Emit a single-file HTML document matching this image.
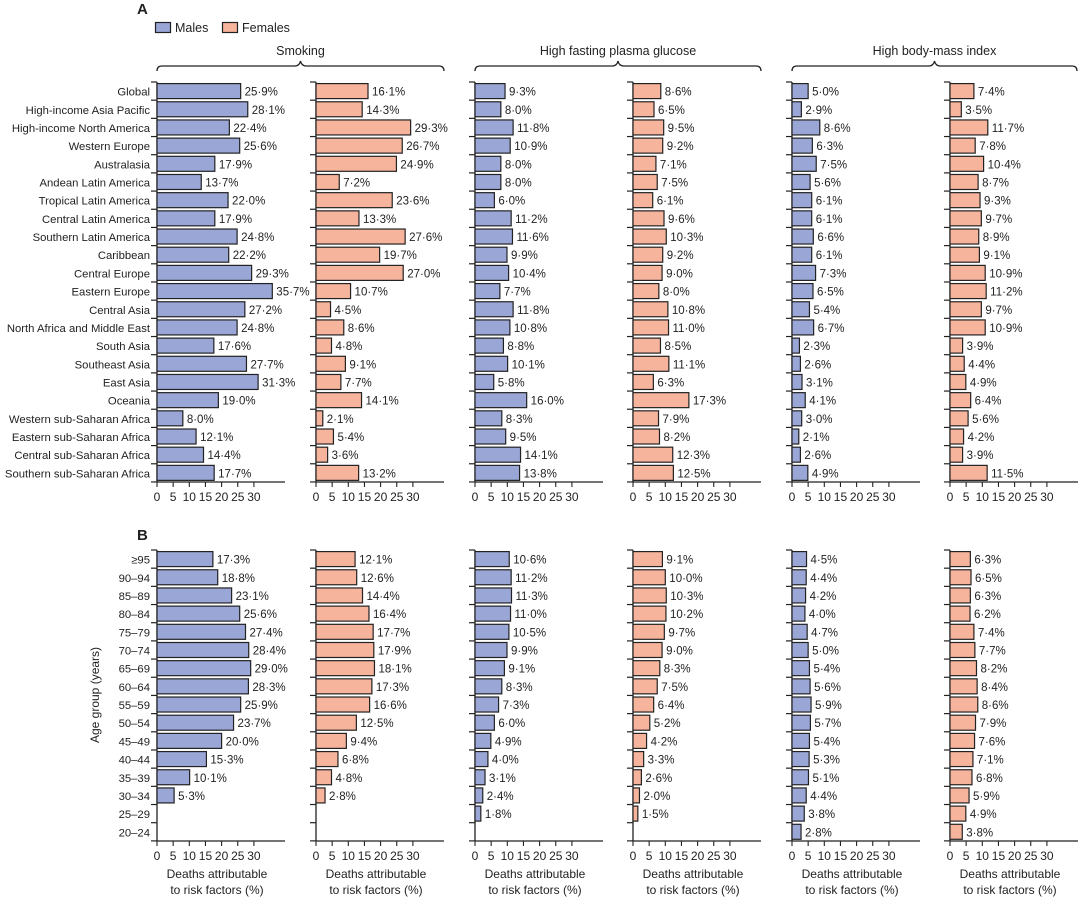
<!DOCTYPE html>
<html><head><meta charset="utf-8"><style>
body{margin:0;background:#fff}
svg{display:block;font-family:"Liberation Sans",sans-serif}
</style></head><body>
<svg id="c" width="1080" height="898" viewBox="0 0 1080 898"></svg>
<script>
const regions=["Global","High-income Asia Pacific","High-income North America","Western Europe","Australasia","Andean Latin America","Tropical Latin America","Central Latin America","Southern Latin America","Caribbean","Central Europe","Eastern Europe","Central Asia","North Africa and Middle East","South Asia","Southeast Asia","East Asia","Oceania","Western sub-Saharan Africa","Eastern sub-Saharan Africa","Central sub-Saharan Africa","Southern sub-Saharan Africa"];
const ages=["≥95","90–94","85–89","80–84","75–79","70–74","65–69","60–64","55–59","50–54","45–49","40–44","35–39","30–34","25–29","20–24"];
const aSmokM=[25.9,28.1,22.4,25.6,17.9,13.7,22.0,17.9,24.8,22.2,29.3,35.7,27.2,24.8,17.6,27.7,31.3,19.0,8.0,12.1,14.4,17.7];
const aSmokF=[16.1,14.3,29.3,26.7,24.9,7.2,23.6,13.3,27.6,19.7,27.0,10.7,4.5,8.6,4.8,9.1,7.7,14.1,2.1,5.4,3.6,13.2];
const aGluM=[9.3,8.0,11.8,10.9,8.0,8.0,6.0,11.2,11.6,9.9,10.4,7.7,11.8,10.8,8.8,10.1,5.8,16.0,8.3,9.5,14.1,13.8];
const aGluF=[8.6,6.5,9.5,9.2,7.1,7.5,6.1,9.6,10.3,9.2,9.0,8.0,10.8,11.0,8.5,11.1,6.3,17.3,7.9,8.2,12.3,12.5];
const aBmiM=[5.0,2.9,8.6,6.3,7.5,5.6,6.1,6.1,6.6,6.1,7.3,6.5,5.4,6.7,2.3,2.6,3.1,4.1,3.0,2.1,2.6,4.9];
const aBmiF=[7.4,3.5,11.7,7.8,10.4,8.7,9.3,9.7,8.9,9.1,10.9,11.2,9.7,10.9,3.9,4.4,4.9,6.4,5.6,4.2,3.9,11.5];
const bSmokM=[17.3,18.8,23.1,25.6,27.4,28.4,29.0,28.3,25.9,23.7,20.0,15.3,10.1,5.3,null,null];
const bSmokF=[12.1,12.6,14.4,16.4,17.7,17.9,18.1,17.3,16.6,12.5,9.4,6.8,4.8,2.8,null,null];
const bGluM=[10.6,11.2,11.3,11.0,10.5,9.9,9.1,8.3,7.3,6.0,4.9,4.0,3.1,2.4,1.8,null];
const bGluF=[9.1,10.0,10.3,10.2,9.7,9.0,8.3,7.5,6.4,5.2,4.2,3.3,2.6,2.0,1.5,null];
const bBmiM=[4.5,4.4,4.2,4.0,4.7,5.0,5.4,5.6,5.9,5.7,5.4,5.3,5.1,4.4,3.8,2.8];
const bBmiF=[6.3,6.5,6.3,6.2,7.4,7.7,8.2,8.4,8.6,7.9,7.6,7.1,6.8,5.9,4.9,3.8];
const ticks=[0,5,10,15,20,25,30];
const titles=["Smoking","High fasting plasma glucose","High body-mass index"];

const NS="http://www.w3.org/2000/svg";
const svg=document.getElementById('c');
function el(t,a,txt){const e=document.createElementNS(NS,t);for(const k in a)e.setAttribute(k,a[k]);if(txt!=null)e.textContent=txt;svg.appendChild(e);return e;}
const X0=[157,316,475,633,792,950];
const SC=3.23, AXLEN=128, STEP=18.18, BH=15;
const MC="#9aa6d6", FC="#f7b49c";
const xs=(i,v)=>X0[i]+v*SC;

function panel(top,bottom,labels,series,key){
  const n=labels.length;
  const yb=i=>top+i*STEP;
  labels.forEach((l,i)=>{
    const t=el('text',{x:150,y:yb(i)+STEP/2+4.5,'text-anchor':'end','font-size':11.3,fill:'#222'},l);
    
    
  });
  series.forEach((vals,si)=>{
    const x0=X0[si];
    let a=el('line',{x1:x0,y1:top,x2:x0,y2:bottom,stroke:'#222','stroke-width':1.3});
    
    a=el('line',{x1:x0,y1:bottom,x2:x0+AXLEN,y2:bottom,stroke:'#222','stroke-width':1.3});
    
    for(let i=0;i<=n;i++){el('line',{x1:x0-6,y1:yb(i),x2:x0,y2:yb(i),stroke:'#222','stroke-width':1.2});}
    ticks.forEach(tk=>{
      el('line',{x1:xs(si,tk),y1:bottom,x2:xs(si,tk),y2:bottom+5,stroke:'#222','stroke-width':1.1});
      const t=el('text',{x:xs(si,tk),y:bottom+19,'text-anchor':'middle','font-size':12,fill:'#222'},String(tk));
      
    });
    vals.forEach((v,i)=>{
      if(v==null)return;
      const r=el('rect',{x:x0,y:yb(i)+(STEP-BH)/2,width:v*SC,height:BH,fill:si%2?FC:MC,stroke:'#222','stroke-width':1.2});
      
      
      const t=el('text',{x:xs(si,v)+4,y:yb(i)+STEP/2+4.5,'font-size':11.5,fill:'#222'},v.toFixed(1).replace('.','·')+'%');
      
      
    });
  });
}
panel(82,482,regions,[aSmokM,aSmokF,aGluM,aGluF,aBmiM,aBmiF],'region');
panel(550,841,ages,[bSmokM,bSmokF,bGluM,bGluF,bBmiM,bBmiF],'age');

X0.forEach(x=>{
  let t=el('text',{x:x+60,y:878,'text-anchor':'middle','font-size':12,fill:'#222'},'Deaths attributable');
  
  t=el('text',{x:x+60,y:894,'text-anchor':'middle','font-size':12,fill:'#222'},'to risk factors (%)');
  
});
let yt=el('text',{x:0,y:0,'text-anchor':'middle','font-size':12,fill:'#222',transform:'translate(99,695) rotate(-90)'},'Age group (years)');


[[157,444],[475,761],[792,1077]].forEach((b,i)=>{
  const m=(b[0]+b[1])/2;
  const p=el('path',{d:`M${b[0]},71 Q${b[0]},66 ${b[0]+5},66 L${m-6},66 Q${m-1},66 ${m},61 Q${m+1},66 ${m+6},66 L${b[1]-5},66 Q${b[1]},66 ${b[1]},71`,fill:'none',stroke:'#222','stroke-width':1.3});
  
  const t=el('text',{x:m,y:55,'text-anchor':'middle','font-size':12.5,fill:'#222'},titles[i]);
  
});
let t=el('text',{x:137,y:14,'font-size':15,'font-weight':'bold',fill:'#222'},'A');

t=el('text',{x:137,y:540,'font-size':15,'font-weight':'bold',fill:'#222'},'B');

let r=el('rect',{x:155.5,y:22.5,width:15,height:10,fill:MC,stroke:'#222','stroke-width':1.2});

t=el('text',{x:175,y:32,'font-size':12.5,fill:'#222'},'Males');

r=el('rect',{x:222.5,y:22.5,width:15,height:10,fill:FC,stroke:'#222','stroke-width':1.2});

t=el('text',{x:242,y:32,'font-size':12.5,fill:'#222'},'Females');

</script>
</body></html>
